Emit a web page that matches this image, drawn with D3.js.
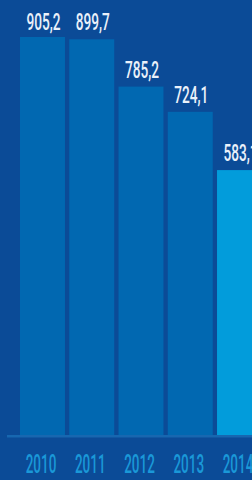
<!DOCTYPE html>
<html>
<head>
<meta charset="utf-8">
<script src="https://cdn.jsdelivr.net/npm/d3@7"></script>
<style>
  html, body { margin: 0; padding: 0; background: #0b4b97; overflow: hidden; }
  svg { display: block; }
</style>
</head>
<body>
<svg id="chart" width="252" height="480"></svg>
<script>
// chart data
const years = ["2010", "2011", "2012", "2013", "2014"];
const values = [905.2, 899.7, 785.2, 724.1, 583.1];
const labels = ["905,2", "899,7", "785,2", "724,1", "583,1"];

const svg = d3.select("#chart");
const width = +svg.attr("width");
const height = +svg.attr("height");

// background
svg.append("rect")
    .attr("width", width)
    .attr("height", height)
    .attr("fill", "#0b4b97");

const baseY = 435;

// x scale, last bar runs off the right edge
var x = d3.scaleBand()
    .domain(years)
    .range([20, 262])
    .paddingInner(0.087)
    .paddingOuter(0);

// y scale (the bars do not start at zero in the original)
var y = d3.scaleLinear()
    .domain([-58, 905.2])
    .range([baseY, 37]);

var data = years.map(function(yr, i) {
    return { year: yr, value: values[i], label: labels[i], last: i === years.length - 1 };
});

// bars
svg.selectAll(".bar")
    .data(data)
    .enter().append("rect")
    .attr("class", "bar")
    .attr("x", function(d) { return x(d.year); })
    .attr("y", function(d) { return y(d.value); })
    .attr("width", x.bandwidth())
    .attr("height", function(d) { return baseY - y(d.value); })
    .attr("fill", function(d) { return d.last ? "#029cdb" : "#0168b1"; });

// baseline
svg.append("line")
    .attr("x1", 7)
    .attr("x2", width)
    .attr("y1", baseY + 1.3)
    .attr("y2", baseY + 1.3)
    .attr("stroke", "#1767b0")
    .attr("stroke-width", 2.6);

// condensed look: squeeze a normal font horizontally
const squeeze = 0.55;

// value labels
svg.selectAll(".value")
    .data(data)
    .enter().append("text")
    .attr("class", "value")
    .attr("transform", function(d) {
        var cx = x(d.year) + x.bandwidth() / 2 + 1;
        var cy = Math.max(y(d.value) - 9, 30);
        return "translate(" + cx + "," + cy + ") scale(" + squeeze + ",1)";
    })
    .attr("text-anchor", "middle")
    .attr("font-family", "Roboto, 'DejaVu Sans', sans-serif")
    .attr("font-weight", 500)
    .attr("font-size", 24.8)
    .attr("fill", "#eaf1fa")
    .text(function(d) { return d.label; });

// year labels
svg.selectAll(".year")
    .data(data)
    .enter().append("text")
    .attr("class", "year")
    .attr("transform", function(d) {
        var cx = x(d.year) + x.bandwidth() / 2 - 1.5;
        return "translate(" + cx + ",472.5) scale(0.53,1)";
    })
    .attr("text-anchor", "middle")
    .attr("font-family", "Roboto, 'DejaVu Sans', sans-serif")
    .attr("font-weight", 500)
    .attr("font-size", 25.5)
    .attr("fill", "#1a98d8")
    .text(function(d) { return d.year; });
</script>
</body>
</html>
